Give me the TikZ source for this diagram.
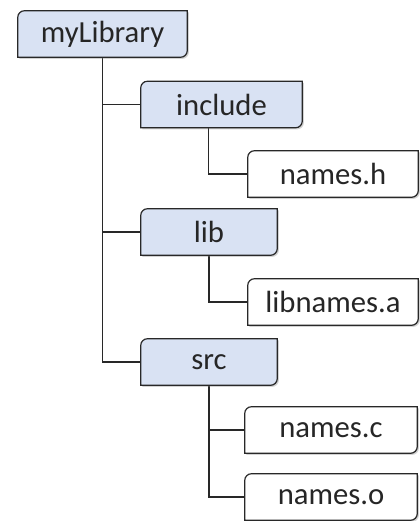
\documentclass[tikz,border=0pt]{standalone}
\usepackage{fontspec}
\setmainfont{Carlito}
\usetikzlibrary{positioning,shadows,backgrounds}
\definecolor{dirblue}{RGB}{217,226,243}
\definecolor{edgegray}{RGB}{40,40,40}

\begin{document}
\begin{tikzpicture}[x=0.75pt,y=-0.75pt]
    \tikzset{box/.style={minimum height=34.5pt, inner sep=0pt, text=black!85,
        font=\fontsize{23}{25}\selectfont},
      tree/.style={draw=edgegray, line width=0.9pt}}
    \useasboundingbox (0,0) rectangle (420,521);
    \node[box, minimum width=126.75pt] (root) at (102.5,34) {myLibrary};
    \node[box, minimum width=120.75pt] (include) at (221.5,104.5) {include};
    \node[box, minimum width=127.5pt] (namesh) at (333,174) {names.h};
    \node[box, minimum width=102pt] (lib) at (209,232) {lib};
    \node[box, minimum width=127.5pt] (libnames) at (333,302) {libnames.a};
    \node[box, minimum width=102pt] (src) at (209,362) {src};
    \node[box, minimum width=129pt] (namesc) at (331,430) {names.c};
    \node[box, minimum width=129pt] (nameso) at (331,497) {names.o};
    \begin{scope}[on background layer]
    % connectors
    \draw[tree] (root.south) |- (include.west);
    \draw[tree] (root.south) |- (lib.west);
    \draw[tree] (root.south) |- (src.west);
    \draw[tree] ([xshift=51pt]include.south west) |- (namesh.west);
    \draw[tree] (lib.south) |- (libnames.west);
    \draw[tree] (src.south) |- (namesc.west);
    \draw[tree] (src.south) |- (nameso.west);
    % boxes with two rounded corners
    \foreach \n/\c in {root/dirblue,include/dirblue,lib/dirblue,src/dirblue,
        namesh/white,libnames/white,namesc/white,nameso/white}
      \draw[fill=\c, draw=edgegray, line width=0.9pt,
        drop shadow={shadow xshift=1.2pt, shadow yshift=-1.2pt, opacity=0.35}]
        (\n.south west) -- ([yshift=-5pt]\n.north west) arc[start angle=180, end angle=90, radius=5pt]
        -- (\n.north east) -- ([yshift=5pt]\n.south east) arc[start angle=0, end angle=-90, radius=5pt]
        -- cycle;
    \end{scope}
\end{tikzpicture}
\end{document}
